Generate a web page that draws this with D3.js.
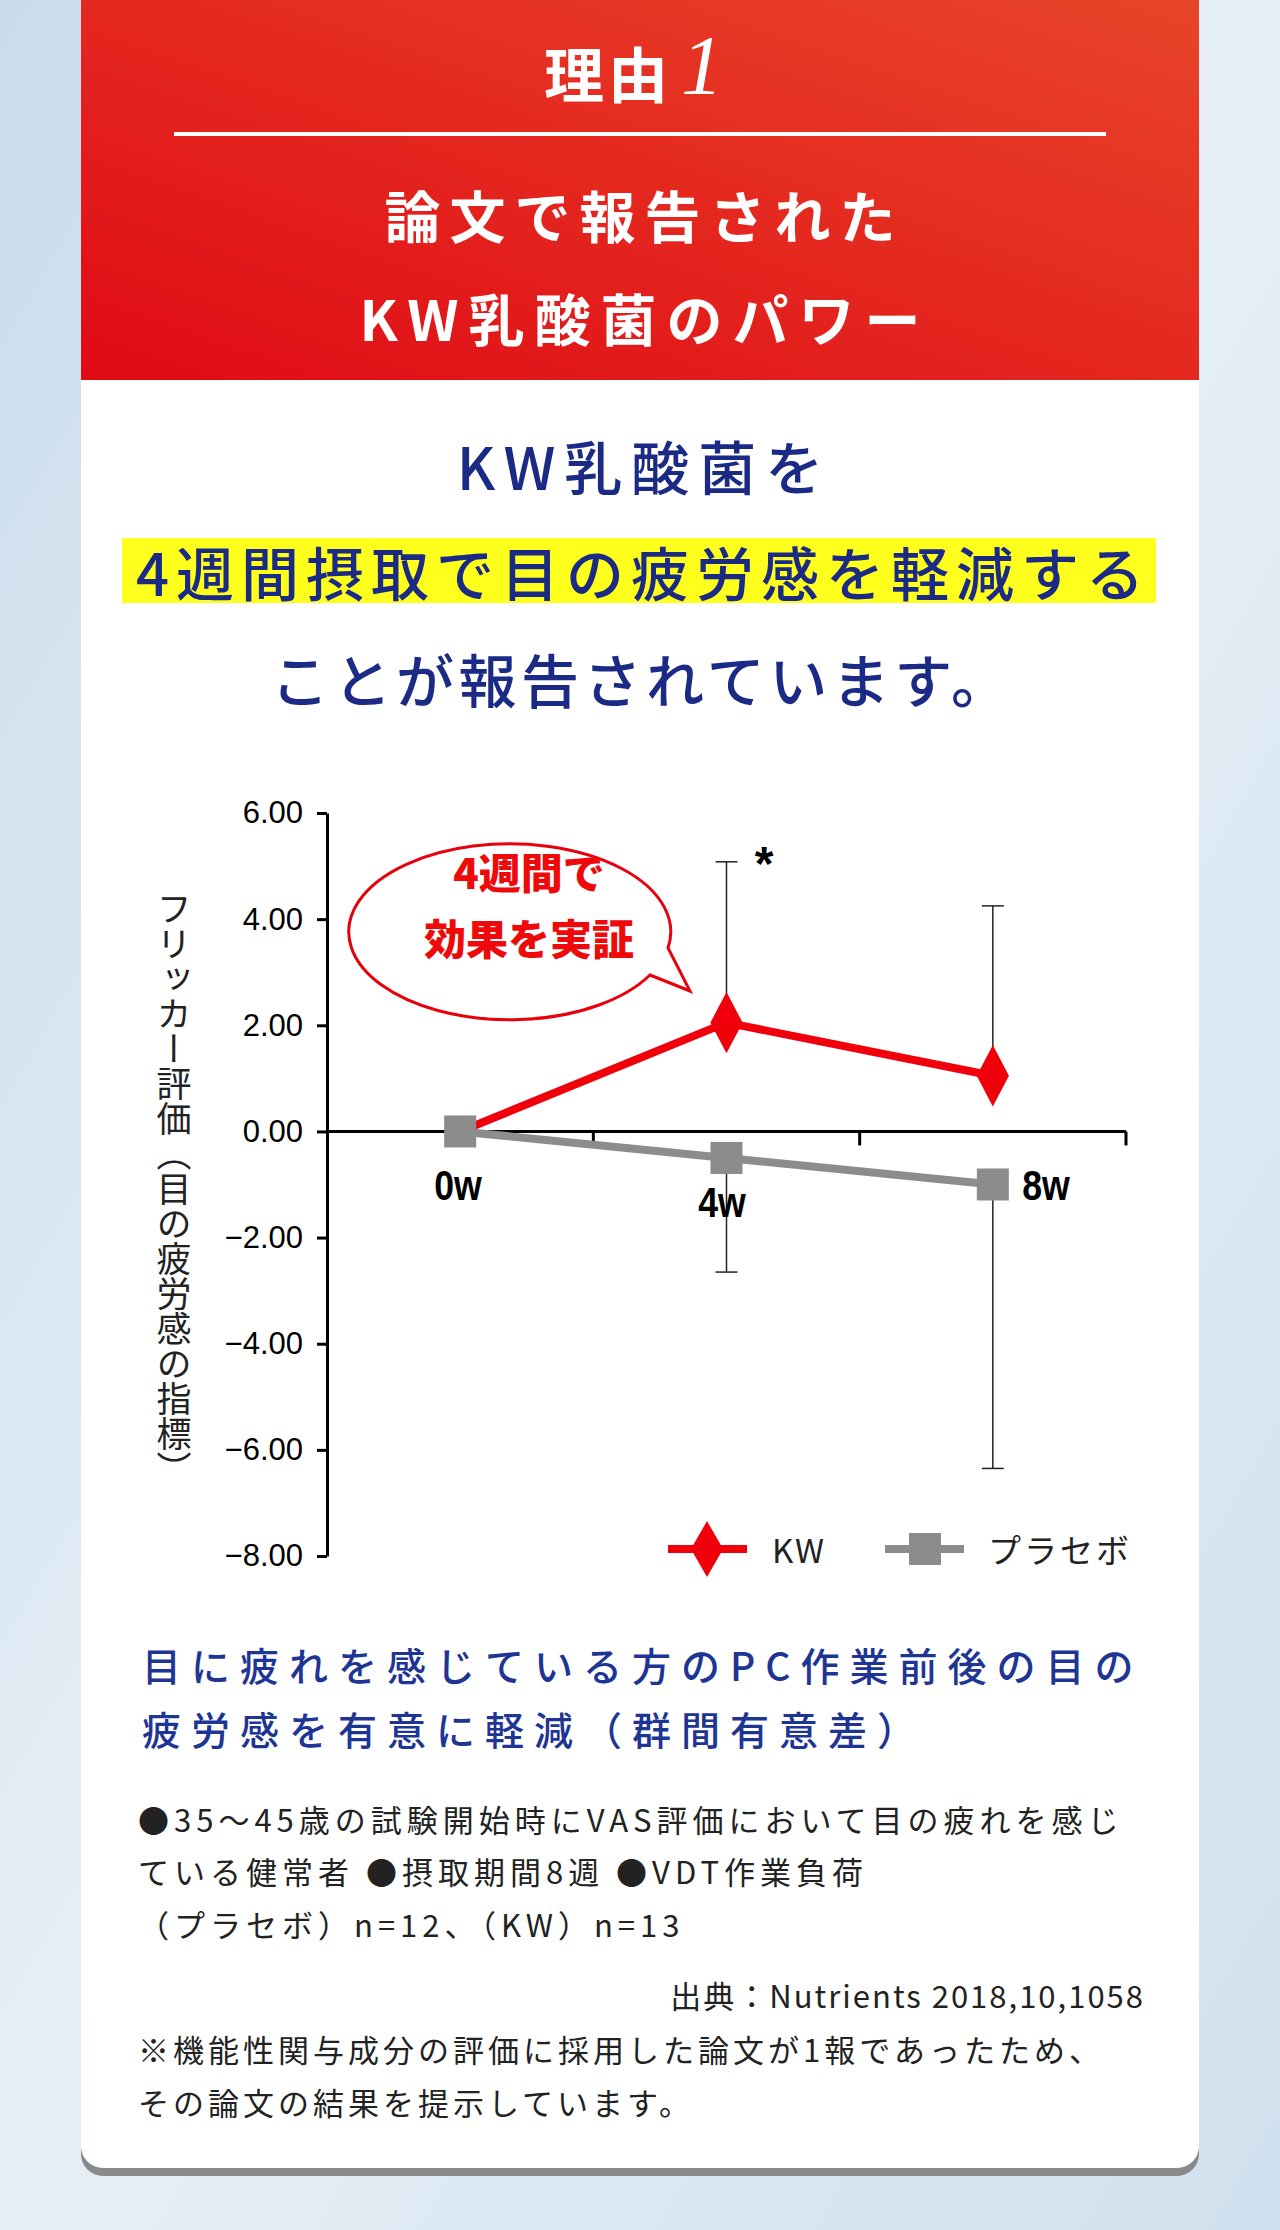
<!DOCTYPE html><html><head><meta charset="utf-8">
<script src="https://cdn.jsdelivr.net/npm/d3@7"></script>
<style>body{margin:0;width:1280px;height:2230px;overflow:hidden;font-family:"Noto Sans CJK JP",sans-serif}</style></head><body>
<svg id="c" width="1280" height="2230"></svg>
<script>
const categories=["0w","4w","8w"];
const kwValues=[0,2.05,1.05];
const kwErrUpper=[null,5.08,4.25];
const placeboValues=[0,-0.5,-1.0];
const placeboErrLower=[null,-2.65,-6.35];
const yTicks=[6,4,2,0,-2,-4,-6,-8];
const seriesNames=["KW","プラセボ"];

const svg=d3.select("#c");
const F='"Noto Sans CJK JP",sans-serif';
const defs=svg.append("defs");
const bg=defs.append("linearGradient").attr("id","bg").attr("x1",0).attr("x2",1).attr("y1",0).attr("y2",1);
bg.append("stop").attr("offset",0).attr("stop-color","#c9dcec");
bg.append("stop").attr("offset",0.5).attr("stop-color","#e6eff6");
bg.append("stop").attr("offset",1).attr("stop-color","#cfe0ee");
const rg=defs.append("linearGradient").attr("id","rg").attr("x1",0).attr("x2",1).attr("y1",1).attr("y2",0);
rg.append("stop").attr("offset",0).attr("stop-color","#e00a14");
rg.append("stop").attr("offset",1).attr("stop-color","#e8452a");
svg.append("rect").attr("width",1280).attr("height",2230).attr("fill","url(#bg)");
svg.append("path").attr("d","M81,0H1199V2154a22,22 0 0 1 -22,22H103a22,22 0 0 1 -22,-22Z").attr("fill","#8a8a8a");
svg.append("path").attr("d","M81,0H1199V2146a22,22 0 0 1 -22,22H103a22,22 0 0 1 -22,-22Z").attr("fill","#fff");
svg.append("rect").attr("x",81).attr("y",0).attr("width",1118).attr("height",380).attr("fill","url(#rg)");
const T=(x,y,s,t,o={})=>{const ls=o.ls||0;const a=o.a||"middle";
 return svg.append("text").attr("x",a==="middle"?x+ls/2:x).attr("y",y).attr("font-size",s).attr("font-family",F)
 .attr("text-anchor",a).attr("dominant-baseline","central").attr("fill",o.c||"#fff").attr("font-weight",o.w||"bold").attr("letter-spacing",ls).text(t);};
T(606,71,60,"理由",{ls:4});
svg.append("text").attr("x",702).attr("y",94).attr("font-size",84).attr("font-style","italic").attr("font-family","Liberation Serif,serif").attr("fill","#fff").attr("text-anchor","middle").text("1");
svg.append("rect").attr("x",174).attr("y",132).attr("width",932).attr("height",4).attr("fill","#fff");
T(640,213,56,"論文で報告された",{ls:9});
T(640,316,56,"KW乳酸菌のパワー",{ls:10});
const navy="#1b2a84";
T(640,465,58,"KW乳酸菌を",{c:navy,w:"500",ls:9});
svg.append("rect").attr("x",122).attr("y",538).attr("width",1034).attr("height",65).attr("fill","#ffff1e");
T(640,571,58,"4週間摂取で目の疲労感を軽減する",{c:navy,w:"500",ls:7});
T(640,678,58,"ことが報告されています。",{c:navy,w:"500",ls:4.5});

const x=d3.scalePoint().domain(categories).range([327,1126]).padding(0.5);
const y=d3.scaleLinear().domain([-8,6]).range([1556,813]);
const g=svg.append("g");
g.append("g").attr("transform","translate(327,0)").call(d3.axisLeft(y).tickValues(yTicks).tickFormat(d3.format(".2f")).tickSize(10).tickSizeOuter(0))
 .call(a=>{a.select(".domain").attr("stroke","#000").attr("stroke-width",3);a.selectAll("line").attr("stroke","#000").attr("stroke-width",3);
 a.selectAll("text").attr("font-size",31).attr("font-family","Liberation Sans,Arial").attr("fill","#000").attr("x",-24);});
g.append("line").attr("x1",327).attr("x2",1126).attr("y1",y(0)).attr("y2",y(0)).attr("stroke","#000").attr("stroke-width",3);
const step=x.step();
[1,2,3].forEach(i=>g.append("line").attr("x1",327+step*i).attr("x2",327+step*i).attr("y1",y(0)).attr("y2",y(0)+14).attr("stroke","#000").attr("stroke-width",3));
categories.forEach((c,i)=>{
 if(kwErrUpper[i]!=null){g.append("line").attr("x1",x(c)).attr("x2",x(c)).attr("y1",y(kwValues[i])).attr("y2",y(kwErrUpper[i])).attr("stroke","#222").attr("stroke-width",1.5);
  g.append("line").attr("x1",x(c)-11).attr("x2",x(c)+11).attr("y1",y(kwErrUpper[i])).attr("y2",y(kwErrUpper[i])).attr("stroke","#222").attr("stroke-width",1.5);}
 if(placeboErrLower[i]!=null){g.append("line").attr("x1",x(c)).attr("x2",x(c)).attr("y1",y(placeboValues[i])).attr("y2",y(placeboErrLower[i])).attr("stroke","#222").attr("stroke-width",1.5);
  g.append("line").attr("x1",x(c)-11).attr("x2",x(c)+11).attr("y1",y(placeboErrLower[i])).attr("y2",y(placeboErrLower[i])).attr("stroke","#222").attr("stroke-width",1.5);}
});
const line=d3.line().x((d,i)=>x(categories[i])).y(d=>y(d));
g.append("path").attr("d",line(placeboValues)).attr("fill","none").attr("stroke","#8c8c8c").attr("stroke-width",8);
g.append("path").attr("d",line(kwValues)).attr("fill","none").attr("stroke","#f0000a").attr("stroke-width",8);
placeboValues.forEach((v,i)=>g.append("rect").attr("x",x(categories[i])-16).attr("y",y(v)-16).attr("width",32).attr("height",32).attr("fill","#8c8c8c"));
kwValues.forEach((v,i)=>{if(i>0)g.append("path").attr("d",d3.symbol(d3.symbolDiamond,900)()).attr("transform",`translate(${x(categories[i])},${y(v)}) scale(1,1.1)`).attr("fill","#f0000a");});
const xl=[[0,458,1185],[1,722,1202],[2,1046,1185]];
xl.forEach(([i,px,py])=>T(px,py,42,categories[i],{c:"#000",w:"bold"}).attr("font-family","Liberation Sans,Arial").attr("transform",`translate(${px},${py}) scale(0.85,1) translate(${-px},${-py})`));
svg.append("text").attr("x",764).attr("y",880).attr("font-size",48).attr("font-weight","bold").attr("font-family","Liberation Sans").attr("text-anchor","middle").text("*");
svg.append("path").attr("d","M650,975 L690,991 L668,948 A161,88 0 1 0 650,975Z").attr("fill","#fff").attr("stroke","#e8000a").attr("stroke-width",3);
T(529,870,42,"4週間で",{c:"#ee0a0a",w:"900"});
T(529,936,42,"効果を実証",{c:"#ee0a0a",w:"900"});
svg.append("text").attr("x",174).attr("y",1189).attr("font-size",35).attr("font-family",F).attr("fill","#222").attr("text-anchor","middle")
 .attr("writing-mode","vertical-rl").attr("dominant-baseline","central").text("フリッカー評価（目の疲労感の指標）");
svg.append("line").attr("x1",668).attr("x2",747).attr("y1",1549).attr("y2",1549).attr("stroke","#f0000a").attr("stroke-width",8);
svg.append("path").attr("d",d3.symbol(d3.symbolDiamond,900)()).attr("transform","translate(707,1549)").attr("fill","#f0000a");
T(772,1549,33,seriesNames[0],{c:"#222",w:"normal",a:"start",ls:2});
svg.append("line").attr("x1",885).attr("x2",964).attr("y1",1549).attr("y2",1549).attr("stroke","#8c8c8c").attr("stroke-width",8);
svg.append("rect").attr("x",909).attr("y",1533).attr("width",32).attr("height",32).attr("fill","#8c8c8c");
T(988,1549,33,seriesNames[1],{c:"#222",w:"normal",a:"start",ls:3});
const blue="#1f3594";
T(142,1664,39,"目に疲れを感じている方のPC作業前後の目の",{c:blue,w:"500",a:"start",ls:10});
T(142,1728,39,"疲労感を有意に軽減（群間有意差）",{c:blue,w:"500",a:"start",ls:10});
T(138,1818,31,"●35〜45歳の試験開始時にVAS評価において目の疲れを感じ",{c:"#222",w:"normal",a:"start",ls:5});
T(138,1870,31,"ている健常者 ●摂取期間8週 ●VDT作業負荷",{c:"#222",w:"normal",a:"start",ls:5});
T(138,1923,31,"（プラセボ）n=12、（KW）n=13",{c:"#222",w:"normal",a:"start",ls:5});
T(1145,1994,31,"出典：Nutrients 2018,10,1058",{c:"#222",w:"normal",a:"end",ls:2});
T(138,2048,31,"※機能性関与成分の評価に採用した論文が1報であったため、",{c:"#222",w:"normal",a:"start",ls:4});
T(138,2101,31,"その論文の結果を提示しています。",{c:"#222",w:"normal",a:"start",ls:4});
</script></body></html>
